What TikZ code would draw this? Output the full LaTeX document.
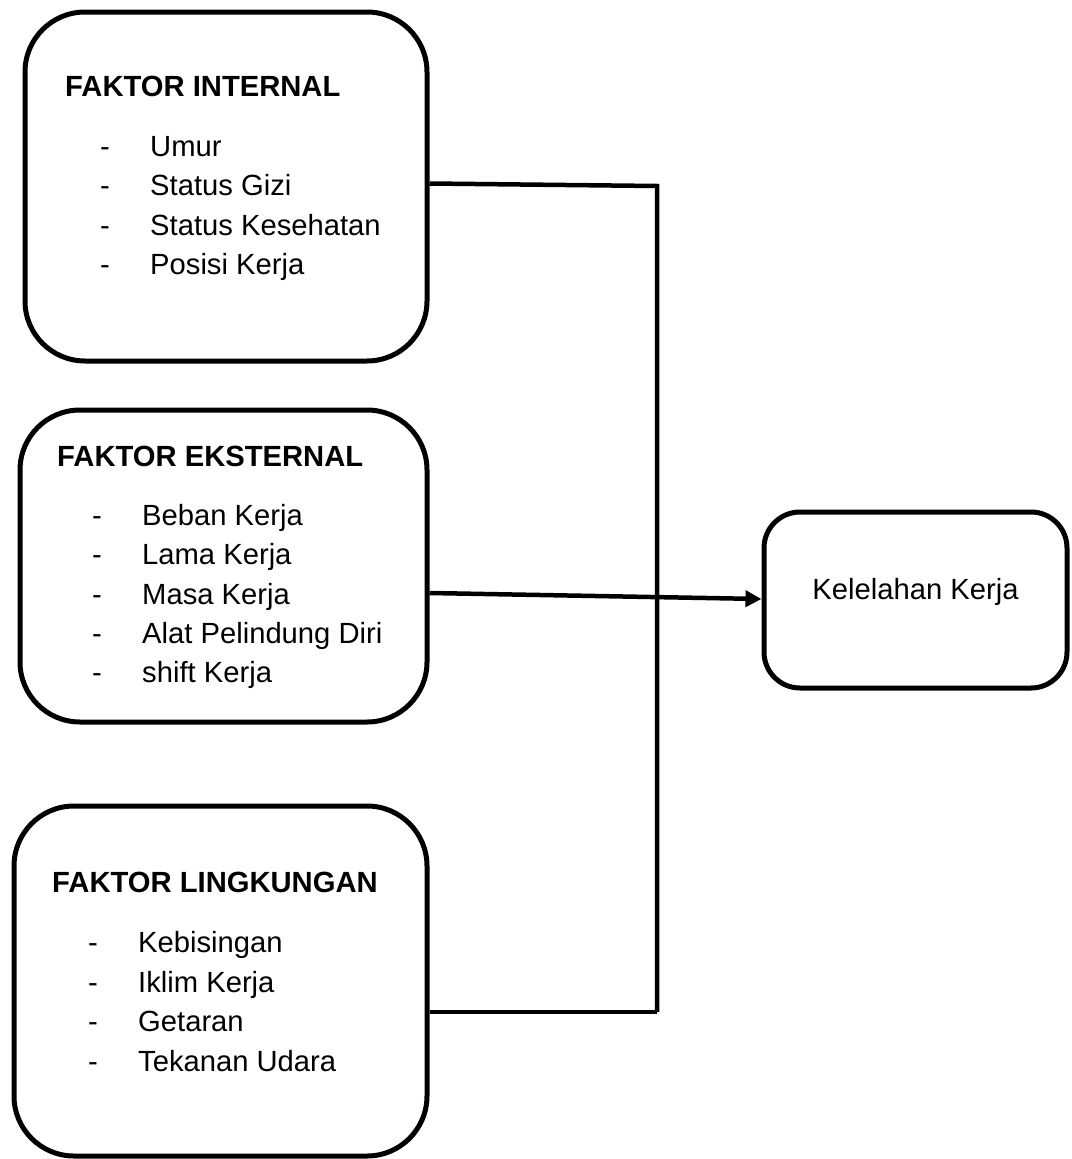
\documentclass[tikz,border=0pt]{standalone}
\usepackage{fontspec}
\setmainfont{Liberation Sans}
\usetikzlibrary{arrows.meta}
\begin{document}
\begin{tikzpicture}[x=1pt,y=-1pt,
  bigbox/.style={draw,line width=5pt,rounded corners=60pt,inner sep=0pt},
  smallbox/.style={draw,line width=5pt,rounded corners=36pt,inner sep=0pt},
  txt/.style={anchor=base west,inner sep=0pt,font=\fontsize{29.2}{35}\selectfont},
  head/.style={txt,font=\fontsize{29.2}{35}\selectfont\bfseries},
  conn/.style={line width=4.5pt}]
\fill[white] (0,0) rectangle (1071,1159);
\useasboundingbox (0,0) rectangle (1071,1159);

% boxes
\node[bigbox,minimum width=402pt,minimum height=349pt] (b1) at (226,186.5) {};
\node[bigbox,minimum width=407pt,minimum height=312pt] (b2) at (223.5,566) {};
\node[bigbox,minimum width=413pt,minimum height=350pt] (b3) at (220.5,981) {};
\node[smallbox,minimum width=303pt,minimum height=176pt] (b4) at (915.5,600) {};

% box 1 text
\node[head] (h1) at (65,96) {FAKTOR INTERNAL};
\node[txt] (d11) at (100,156) {-};   \node[txt] (t11) at (150,156) {Umur};
\node[txt] (d12) at (100,195.5) {-}; \node[txt] (t12) at (150,195.5) {Status Gizi};
\node[txt] (d13) at (100,235) {-};   \node[txt] (t13) at (150,235) {Status Kesehatan};
\node[txt] (d14) at (100,274.5) {-}; \node[txt] (t14) at (150,274.5) {Posisi Kerja};

% box 2 text
\node[head] (h2) at (57,466) {FAKTOR EKSTERNAL};
\node[txt] (d21) at (92,525) {-}; \node[txt] (t21) at (142,525) {Beban Kerja};
\node[txt] (d22) at (92,564) {-}; \node[txt] (t22) at (142,564) {Lama Kerja};
\node[txt] (d23) at (92,604) {-}; \node[txt] (t23) at (142,604) {Masa Kerja};
\node[txt] (d24) at (92,643) {-}; \node[txt] (t24) at (142,643) {Alat Pelindung Diri};
\node[txt] (d25) at (92,682) {-}; \node[txt] (t25) at (142,682) {shift Kerja};

% box 3 text
\node[head] (h3) at (52,892) {FAKTOR LINGKUNGAN};
\node[txt] (d31) at (88,952) {-};  \node[txt] (t31) at (138,952) {Kebisingan};
\node[txt] (d32) at (88,992) {-};  \node[txt] (t32) at (138,992) {Iklim Kerja};
\node[txt] (d33) at (88,1031) {-}; \node[txt] (t33) at (138,1031) {Getaran};
\node[txt] (d34) at (88,1071) {-}; \node[txt] (t34) at (138,1071) {Tekanan Udara};

% box 4 text
\node[font=\fontsize{29.2}{35}\selectfont,inner sep=0pt] (t4) at (b4) [yshift=8pt] {Kelelahan Kerja};

% connectors
\coordinate (j1) at (657,186);
\coordinate (j3) at (657,1012);
\draw[conn,line join=miter] ([yshift=3pt]b1.east) -- (j1) -- (j3);
\draw[conn,line join=miter] ([yshift=-31pt]b3.east) -- (j3);
\draw[conn,-{Triangle[length=16pt,width=16pt]}] ([yshift=-27pt]b2.east) -- ([yshift=1pt]b4.west);
\end{tikzpicture}
\end{document}
